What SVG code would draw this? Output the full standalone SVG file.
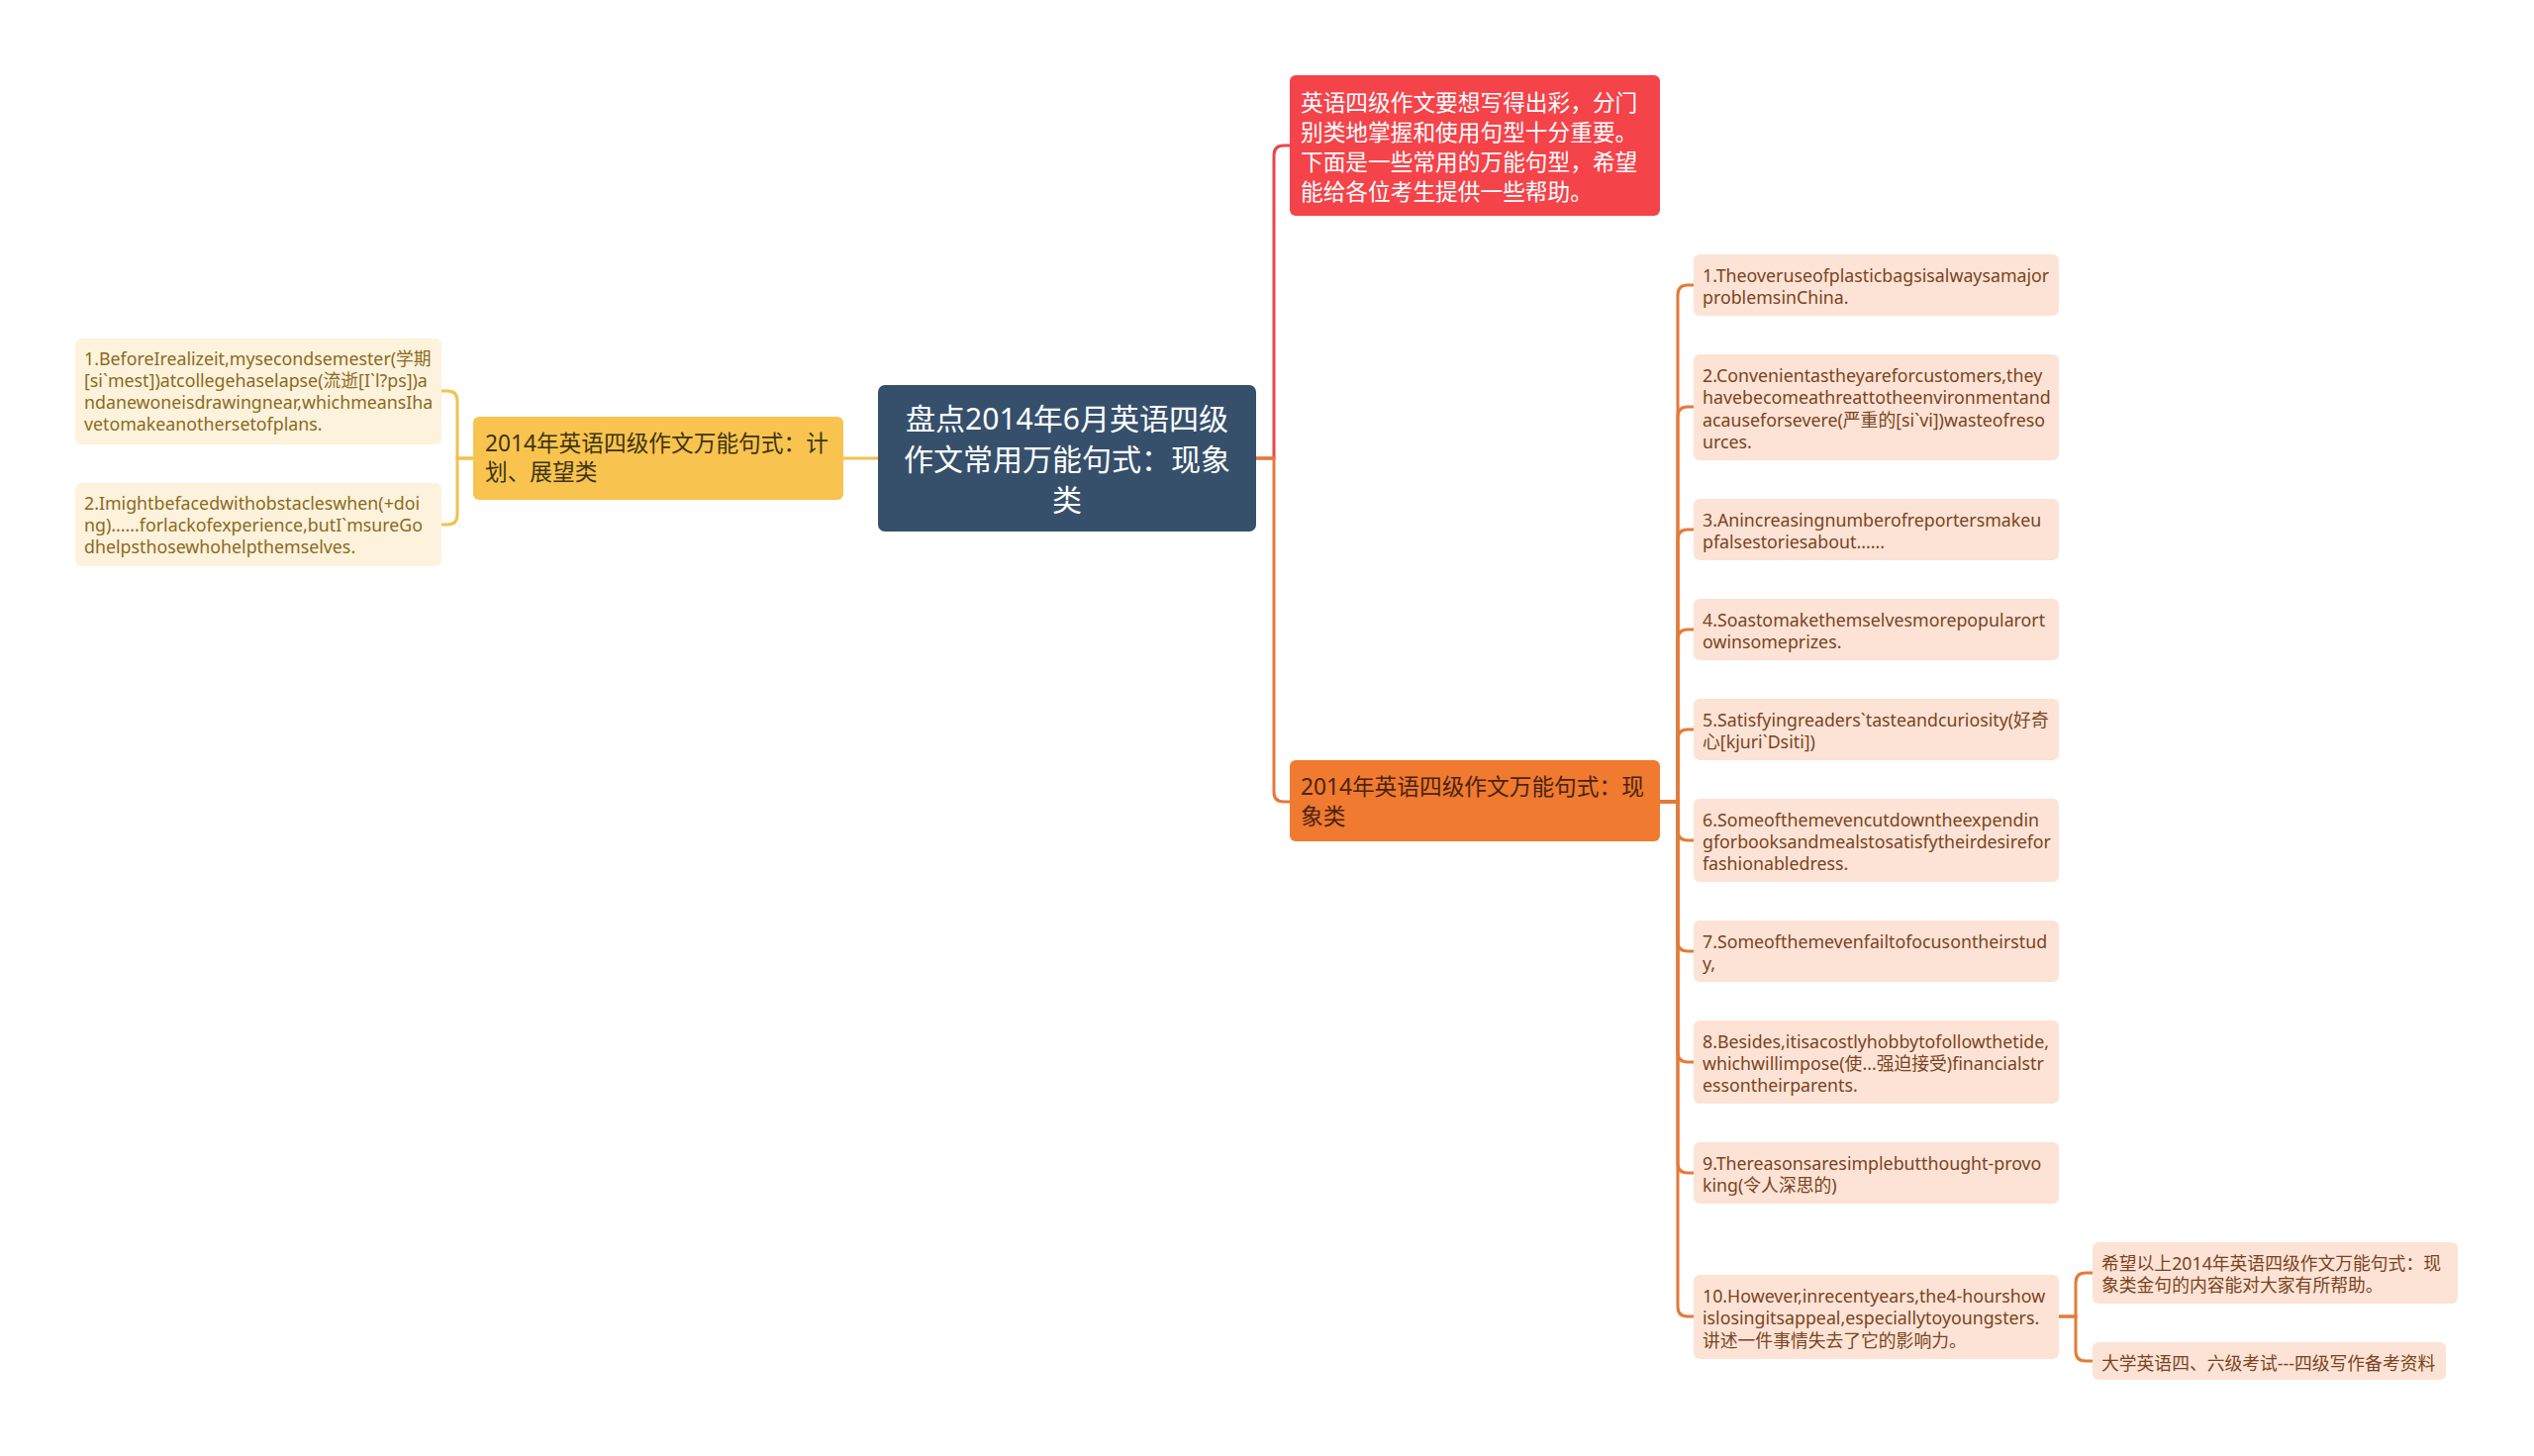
<svg xmlns="http://www.w3.org/2000/svg" width="2560" height="1471" viewBox="0 0 2560 1471">
<style>
text{font-family:"Noto Sans","Noto Sans CJK SC",sans-serif;}
.root{fill:#36506c;}
.rootT{fill:#ffffff;font-size:30px;text-anchor:middle;}
.yel{fill:#f8c44f;}
.yelT{fill:#3f3412;font-size:22.7px;}
.red{fill:#f5434a;}
.redT{fill:#ffffff;font-size:22.7px;}
.ora{fill:#f07a30;}
.oraT{fill:#4a2410;font-size:22.7px;}
.lleaf{fill:#fdf2dc;}
.lleafT{fill:#8a6a1c;font-size:17.8px;}
.rleaf{fill:#fce3d5;}
.rleafT{fill:#7a4322;font-size:17.8px;}
.c{fill:none;stroke-width:3;stroke-linecap:round;}
.cy{stroke:#f2c14e;}
.cr{stroke:#e8474b;}
.co{stroke:#e47a38;}
</style>
<rect width="2560" height="1471" fill="#ffffff"/>
<g id="connectors">
<path class="c cy" d="M887 463 H852"/>
<path class="c cy" d="M478 463 H462 V405 Q462 395 452 395 H446"/>
<path class="c cy" d="M478 463 H462 V520 Q462 530 452 530 H446"/>
<path class="c cr" d="M1269 463 H1287 V157 Q1287 147 1297 147 H1303"/>
<path class="c co" d="M1269 463 H1287 V800 Q1287 810 1297 810 H1303"/>
<path class="c co" d="M1677 810 H1695 V298 Q1695 288 1705 288 H1711"/>
<path class="c co" d="M1677 810 H1695 V421 Q1695 411 1705 411 H1711"/>
<path class="c co" d="M1677 810 H1695 V545 Q1695 535 1705 535 H1711"/>
<path class="c co" d="M1677 810 H1695 V646 Q1695 636 1705 636 H1711"/>
<path class="c co" d="M1677 810 H1695 V747 Q1695 737 1705 737 H1711"/>
<path class="c co" d="M1677 810 H1695 V839 Q1695 849 1705 849 H1711"/>
<path class="c co" d="M1677 810 H1695 V951 Q1695 961 1705 961 H1711"/>
<path class="c co" d="M1677 810 H1695 V1063 Q1695 1073 1705 1073 H1711"/>
<path class="c co" d="M1677 810 H1695 V1175 Q1695 1185 1705 1185 H1711"/>
<path class="c co" d="M1677 810 H1695 V1320 Q1695 1330 1705 1330 H1711"/>
<path class="c co" d="M2080 1330 H2097 V1296 Q2097 1286 2107 1286 H2114"/>
<path class="c co" d="M2080 1330 H2097 V1365 Q2097 1375 2107 1375 H2114"/>
</g>
<g id="root">
<rect class="root" x="887" y="389" width="382" height="148" rx="7"/>
<text class="rootT" x="1078" y="434">盘点2014年6月英语四级</text>
<text class="rootT" x="1078" y="475">作文常用万能句式：现象</text>
<text class="rootT" x="1078" y="516">类</text>
</g>
<g id="plan">
<rect class="yel" x="478" y="421" width="374" height="84" rx="6"/>
<text class="yelT" x="490" y="456">2014年英语四级作文万能句式：计</text>
<text class="yelT" x="490" y="485">划、展望类</text>
</g>
<g id="plan-1">
<rect class="lleaf" x="76" y="342" width="370" height="107" rx="6"/>
<text class="lleafT" x="85" y="369">1.BeforeIrealizeit,mysecondsemester(学期</text>
<text class="lleafT" x="85" y="391">[si`mest])atcollegehaselapse(流逝[I`l?ps])a</text>
<text class="lleafT" x="85" y="413">ndanewoneisdrawingnear,whichmeansIha</text>
<text class="lleafT" x="85" y="435">vetomakeanothersetofplans.</text>
</g>
<g id="plan-2">
<rect class="lleaf" x="76" y="488" width="370" height="84" rx="6"/>
<text class="lleafT" x="85" y="515">2.Imightbefacedwithobstacleswhen(+doi</text>
<text class="lleafT" x="85" y="537">ng)......forlackofexperience,butI`msureGo</text>
<text class="lleafT" x="85" y="559">dhelpsthosewhohelpthemselves.</text>
</g>
<g id="intro">
<rect class="red" x="1303" y="76" width="374" height="142" rx="6"/>
<text class="redT" x="1314" y="112">英语四级作文要想写得出彩，分门</text>
<text class="redT" x="1314" y="142">别类地掌握和使用句型十分重要。</text>
<text class="redT" x="1314" y="172">下面是一些常用的万能句型，希望</text>
<text class="redT" x="1314" y="202">能给各位考生提供一些帮助。</text>
</g>
<g id="phenomena">
<rect class="ora" x="1303" y="768" width="374" height="82" rx="6"/>
<text class="oraT" x="1314" y="803">2014年英语四级作文万能句式：现</text>
<text class="oraT" x="1314" y="833">象类</text>
</g>
<g id="p1">
<rect class="rleaf" x="1711" y="257" width="369" height="62" rx="6"/>
<text class="rleafT" x="1720" y="285">1.Theoveruseofplasticbagsisalwaysamajor</text>
<text class="rleafT" x="1720" y="307">problemsinChina.</text>
</g>
<g id="p2">
<rect class="rleaf" x="1711" y="358" width="369" height="107" rx="6"/>
<text class="rleafT" x="1720" y="386">2.Convenientastheyareforcustomers,they</text>
<text class="rleafT" x="1720" y="408">havebecomeathreattotheenvironmentand</text>
<text class="rleafT" x="1720" y="431">acauseforsevere(严重的[si`vi])wasteofreso</text>
<text class="rleafT" x="1720" y="453">urces.</text>
</g>
<g id="p3">
<rect class="rleaf" x="1711" y="504" width="369" height="62" rx="6"/>
<text class="rleafT" x="1720" y="532">3.Anincreasingnumberofreportersmakeu</text>
<text class="rleafT" x="1720" y="554">pfalsestoriesabout......</text>
</g>
<g id="p4">
<rect class="rleaf" x="1711" y="605" width="369" height="62" rx="6"/>
<text class="rleafT" x="1720" y="633">4.Soastomakethemselvesmorepopularort</text>
<text class="rleafT" x="1720" y="655">owinsomeprizes.</text>
</g>
<g id="p5">
<rect class="rleaf" x="1711" y="706" width="369" height="62" rx="6"/>
<text class="rleafT" x="1720" y="734">5.Satisfyingreaders`tasteandcuriosity(好奇</text>
<text class="rleafT" x="1720" y="756">心[kjuri`Dsiti])</text>
</g>
<g id="p6">
<rect class="rleaf" x="1711" y="807" width="369" height="84" rx="6"/>
<text class="rleafT" x="1720" y="835">6.Someofthemevencutdowntheexpendin</text>
<text class="rleafT" x="1720" y="857">gforbooksandmealstosatisfytheirdesirefor</text>
<text class="rleafT" x="1720" y="879">fashionabledress.</text>
</g>
<g id="p7">
<rect class="rleaf" x="1711" y="930" width="369" height="62" rx="6"/>
<text class="rleafT" x="1720" y="958">7.Someofthemevenfailtofocusontheirstud</text>
<text class="rleafT" x="1720" y="980">y,</text>
</g>
<g id="p8">
<rect class="rleaf" x="1711" y="1031" width="369" height="84" rx="6"/>
<text class="rleafT" x="1720" y="1059">8.Besides,itisacostlyhobbytofollowthetide,</text>
<text class="rleafT" x="1720" y="1081">whichwillimpose(使...强迫接受)financialstr</text>
<text class="rleafT" x="1720" y="1103">essontheirparents.</text>
</g>
<g id="p9">
<rect class="rleaf" x="1711" y="1154" width="369" height="62" rx="6"/>
<text class="rleafT" x="1720" y="1182">9.Thereasonsaresimplebutthought-provo</text>
<text class="rleafT" x="1720" y="1204">king(令人深思的)</text>
</g>
<g id="p10">
<rect class="rleaf" x="1711" y="1288" width="369" height="85" rx="6"/>
<text class="rleafT" x="1720" y="1316">10.However,inrecentyears,the4-hourshow</text>
<text class="rleafT" x="1720" y="1338">islosingitsappeal,especiallytoyoungsters.</text>
<text class="rleafT" x="1720" y="1361">讲述一件事情失去了它的影响力。</text>
</g>
<g id="p10-a">
<rect class="rleaf" x="2114" y="1255" width="369" height="62" rx="6"/>
<text class="rleafT" x="2123" y="1283">希望以上2014年英语四级作文万能句式：现</text>
<text class="rleafT" x="2123" y="1305">象类金句的内容能对大家有所帮助。</text>
</g>
<g id="p10-b">
<rect class="rleaf" x="2114" y="1356" width="357" height="38" rx="6"/>
<text class="rleafT" x="2123" y="1384">大学英语四、六级考试---四级写作备考资料</text>
</g>
</svg>
